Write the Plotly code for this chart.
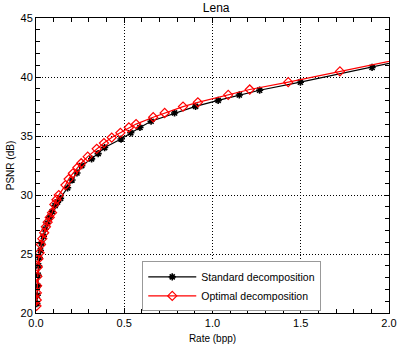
import plotly.graph_objects as go

# Standard decomposition (black, asterisks)
std_rate = [0.005, 0.007, 0.009, 0.012, 0.015, 0.019, 0.025, 0.032, 0.042, 0.052,
            0.064, 0.077, 0.092, 0.108, 0.122, 0.139, 0.179, 0.204, 0.232, 0.259,
            0.315, 0.352, 0.389, 0.482, 0.537, 0.589, 0.652, 0.785, 0.904, 1.032,
            1.152, 1.267, 1.498, 1.904, 2.25]
std_psnr = [20.8, 21.5, 22.3, 23.2, 24.0, 24.7, 25.3, 25.9, 26.5, 27.1,
            27.6, 28.1, 28.6, 29.1, 29.4, 29.71, 30.61, 31.27, 31.87, 32.49,
            33.06, 33.51, 34.02, 34.74, 35.27, 35.72, 36.25, 36.95, 37.51, 38.02,
            38.48, 38.88, 39.56, 40.81, 41.95]

# Optimal decomposition (red, diamonds)
opt_rate = [0.003, 0.004, 0.005, 0.006, 0.008, 0.010, 0.014, 0.020, 0.028, 0.036,
            0.046, 0.056, 0.066, 0.078, 0.091, 0.104, 0.116, 0.129, 0.167, 0.185,
            0.209, 0.235, 0.256, 0.293, 0.344, 0.385, 0.429, 0.478, 0.526, 0.567,
            0.664, 0.729, 0.833, 0.917, 1.089, 1.211, 1.429, 1.722, 2.2]
opt_psnr = [20.6, 21.1, 21.7, 22.3, 23.1, 23.9, 24.6, 25.1, 25.8, 26.3,
            26.8, 27.3, 27.7, 28.1, 28.5, 29.2, 29.6, 29.99, 30.84, 31.35,
            31.84, 32.32, 32.69, 33.25, 33.91, 34.40, 34.87, 35.27, 35.72, 36.01,
            36.59, 36.95, 37.49, 37.85, 38.48, 38.94, 39.56, 40.47, 41.95]

x_ticks = [0.0, 0.5, 1.0, 1.5, 2.0]
x_ticktext = ["0.0", "0.5", "1.0", "1.5", "2.0"]
y_ticks = [20, 25, 30, 35, 40, 45]

FONT = "Liberation Sans, Arial, Helvetica, sans-serif"
X_RANGE = [0, 2.0]
Y_RANGE = [20, 45]

fig = go.Figure()
fig.add_trace(go.Scatter(
    x=std_rate, y=std_psnr, mode="lines+markers", name="Standard decomposition",
    line=dict(color="black", width=1.2),
    marker=dict(symbol="asterisk-open", size=6, color="black",
                line=dict(color="black", width=1.6)),
))
fig.add_trace(go.Scatter(
    x=opt_rate, y=opt_psnr, mode="lines+markers", name="Optimal decomposition",
    line=dict(color="#ff0000", width=1.2),
    marker=dict(symbol="diamond-open", size=7, color="#ff0000",
                line=dict(color="#ff0000", width=1.2)),
))
# empty trace so the mirrored tick axes (top/right) are drawn
fig.add_trace(go.Scatter(x=[], y=[], xaxis="x2", yaxis="y2", showlegend=False,
                         hoverinfo="skip"))

tick_common = dict(ticks="inside", ticklen=5, tickcolor="black", tickwidth=1)
minor_common = dict(ticks="inside", ticklen=4, tickcolor="black", showgrid=False)

fig.update_layout(
    width=404, height=350,
    margin=dict(l=36, r=7, t=18, b=37),
    paper_bgcolor="white", plot_bgcolor="white",
    title=dict(text="Lena", x=0.535, xanchor="center", y=0.977, yanchor="middle",
               font=dict(family=FONT, size=12, color="black")),
    xaxis=dict(
        range=X_RANGE, tickmode="array", tickvals=x_ticks, ticktext=x_ticktext,
        ticklabeloverflow="allow",
        showline=True, linecolor="black", linewidth=1, mirror=True,
        showgrid=True, gridcolor="black", griddash="1px,2px", gridwidth=1,
        zeroline=False, **tick_common,
        minor=dict(dtick=0.1, **minor_common),
        tickfont=dict(family=FONT, size=11, color="black"),
        title=dict(text="Rate (bpp)", font=dict(family=FONT, size=10, color="black"),
                   standoff=6),
    ),
    yaxis=dict(
        range=Y_RANGE, tickmode="array", tickvals=y_ticks,
        ticklabeloverflow="allow",
        showline=True, linecolor="black", linewidth=1, mirror=True,
        showgrid=True, gridcolor="black", griddash="1px,2px", gridwidth=1,
        zeroline=False, **tick_common,
        minor=dict(dtick=1, **minor_common),
        tickfont=dict(family=FONT, size=11, color="black"),
        title=dict(text="PSNR (dB)", font=dict(family=FONT, size=10, color="black"),
                   standoff=4),
    ),
    xaxis2=dict(
        range=X_RANGE, overlaying="x", side="top", anchor="y2",
        tickmode="array", tickvals=x_ticks, showticklabels=False,
        showgrid=False, zeroline=False, showline=False, **tick_common,
        minor=dict(dtick=0.1, **minor_common),
    ),
    yaxis2=dict(
        range=Y_RANGE, overlaying="y", side="right", anchor="x2",
        tickmode="array", tickvals=y_ticks, showticklabels=False,
        showgrid=False, zeroline=False, showline=False, **tick_common,
        minor=dict(dtick=1, **minor_common),
    ),
    showlegend=True,
    legend=dict(
        x=0.301, y=0.175, xanchor="left", yanchor="top",
        bgcolor="white", bordercolor="#999999", borderwidth=1,
        font=dict(family=FONT, size=10.5, color="black"),
        itemwidth=48, tracegroupgap=0,
    ),
)

fig.write_html("out.html")
